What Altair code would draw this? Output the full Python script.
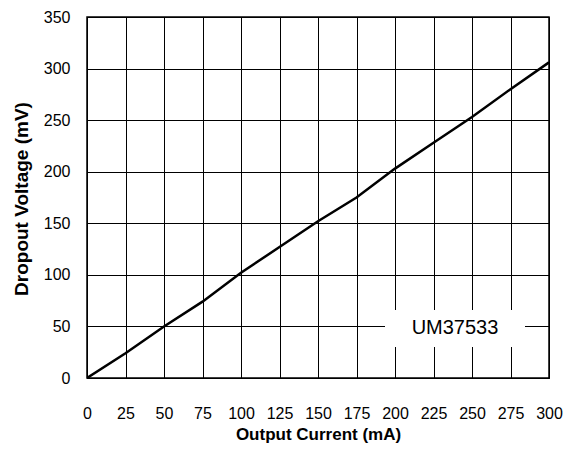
import altair as alt
import pandas as pd

current_ma = [0, 25, 50, 75, 100, 125, 150, 175, 200, 225, 250, 275, 300]
dropout_mv = [0, 24, 50, 74, 102, 127, 152, 175, 203, 228, 253, 280, 306]
x_ticks = [0, 25, 50, 75, 100, 125, 150, 175, 200, 225, 250, 275, 300]
y_ticks = [0, 50, 100, 150, 200, 250, 300, 350]
part_label = "UM37533"

df = pd.DataFrame({"current": current_ma, "dropout": dropout_mv})

FONT = "Liberation Sans"
W, H = 462, 361

x_enc = alt.X(
    "current:Q",
    scale=alt.Scale(domain=[0, 300], nice=False, zero=False),
    axis=alt.Axis(
        values=x_ticks, title="Output Current  (mA)", ticks=False,
        labelPadding=27, labelFontSize=16, labelFont=FONT, labelColor="black",
        titleFont=FONT, titleFontSize=17, titleFontWeight="bold", titleColor="black",
        titleBaseline="middle", titleY=56, titleX=W / 2,
        grid=True, gridColor="black", gridWidth=1, gridOpacity=1,
        domainColor="black", labelFlush=False,
    ),
)
y_enc = alt.Y(
    "dropout:Q",
    scale=alt.Scale(domain=[0, 350], nice=False, zero=False),
    axis=alt.Axis(
        values=y_ticks, title="Dropout Voltage (mV)", ticks=False,
        labelPadding=17, labelFontSize=16, labelFont=FONT, labelColor="black",
        titleFont=FONT, titleFontSize=19, titleFontWeight="bold", titleColor="black",
        titleBaseline="middle", titleX=-66, titleY=H / 2 + 1,
        grid=True, gridColor="black", gridWidth=1, gridOpacity=1,
        domainColor="black", labelFlush=False,
    ),
)

line = alt.Chart(df).mark_line(color="black", strokeWidth=2.5, clip=True).encode(
    x=x_enc, y=y_enc
)

box_df = pd.DataFrame({"label": [part_label]})
box = alt.Chart(box_df).mark_rect(color="white").encode(
    x=alt.value(298), x2=alt.value(438), y=alt.value(293), y2=alt.value(330)
)
text = alt.Chart(box_df).mark_text(
    font=FONT, fontSize=20, color="black", align="center", baseline="middle"
).encode(x=alt.value(368), y=alt.value(311), text="label:N")

chart = (
    alt.layer(line, box, text)
    .properties(
        width=W, height=H,
        autosize=alt.AutoSizeParams(type="none"),
        padding={"left": 79, "top": 9, "right": 14, "bottom": 66},
        background="white",
    )
    .configure_view(stroke="black", strokeWidth=1.5)
)

chart.save("out.html", embed_options={"renderer": "svg", "actions": False})
